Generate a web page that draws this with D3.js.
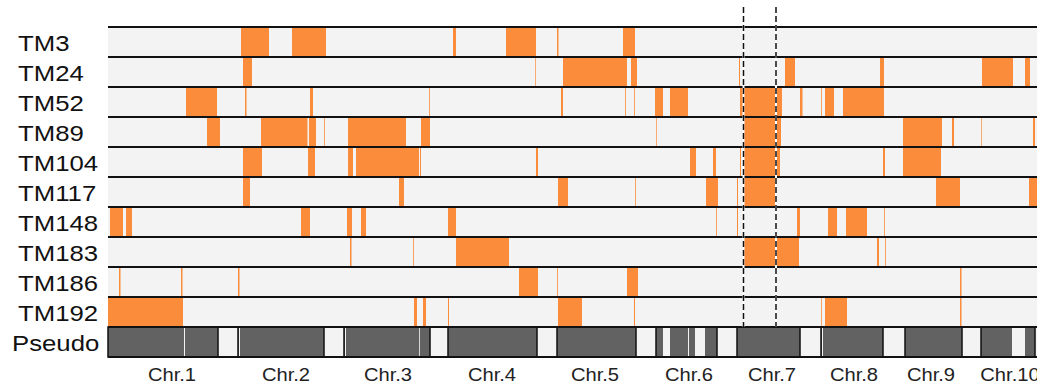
<!DOCTYPE html>
<html>
<head>
<meta charset="utf-8">
<script src="https://cdn.jsdelivr.net/npm/d3@7"></script>
<style>
  body { margin: 0; background: #fff; }
  svg { display: block; font-family: "Liberation Sans", Arial, sans-serif; }
</style>
</head>
<body>
<div id="chart"></div>
<script>
// positions are genome units along the concatenated chromosomes (0 - 929)
const lineNames = ["TM3", "TM24", "TM52", "TM89", "TM104", "TM117", "TM148", "TM183", "TM186", "TM192"];

const tm3   = [[133,161],[184,218],[345,348],[398,428],[449,450.5],[515,527]];
const tm24  = [[135,144],[427,427.7],[455,519],[523,529],[631,632],[677,687],[772,776],[874,905],[917,922]];
const tm52  = [[78,109],[137,138.5],[202,205],[321,321.8],[453,455],[517,517.8],[526,526.8],[547,555],[562,580],
               [632,674],[692,694.5],[713,713.8],[717,726],[735,776]];
const tm89  = [[99,112],[153,199.5],[201,208],[216,216.8],[240,298],[313,322],[548,548.7],[635,673],
               [795,834],[844,846],[873,873.7],[925,927]];
const tm104 = [[135,154],[200,207],[240,245],[248,311],[312,313],[428,430],[582,588],[605,608],[632,633],
               [635,672],[775,777],[795,833]];
const tm117 = [[135,142],[291,296],[450,460],[527,527.8],[598,610],[629,630],[635,668],[828,852],[921,929]];
const tm148 = [[2,15],[18,24],[193,202],[239,244],[253,258],[340,348],[608,608.8],[629,630],[689,692],
               [720,729],[738,759],[776,776.8]];
const tm183 = [[242,243.5],[305,305.8],[348,401],[635,691],[769,771],[777,777.8]];
const tm186 = [[11,12.5],[73,74.5],[130,131.5],[411,430],[449,449.8],[519,530],[852,853.5]];
const tm192 = [[0,75],[306,309],[315,318],[340,341],[450,474],[526,527],[713,713.8],[717,739],[852,853.5]];

const lineSegments = [tm3, tm24, tm52, tm89, tm104, tm117, tm148, tm183, tm186, tm192];

// pseudo chromosome
const chromNames = ["Chr.1","Chr.2","Chr.3","Chr.4","Chr.5","Chr.6","Chr.7","Chr.8","Chr.9","Chr.10"];
const chromSpans = [[0,110],[130,216],[236,322],[340,429],[449,528],[548,609],[629,692],[713,775],[797,854],[873,927]];
const chromGaps  = [[76,77],[131,132],[237,238],[311,311.8],[555,562],[580,581],[587,597],[714,715],[904,917]];
const chromLabelPos = [64,178,280,384,487,581,664,746,823,902];

// QTL interval
const markerInterval = [635.5, 668];

const width = 1047, height = 387;
const orange = "#fa8c3c";

const svg = d3.select("#chart").append("svg")
  .attr("width", width)
  .attr("height", height);

const x = d3.scaleLinear().domain([0, 929]).range([108, 1037]);
const rowNames = lineNames.concat(["Pseudo"]);
const y = d3.scaleBand().domain(rowNames).range([27, 357]).padding(0);

// row backgrounds
svg.append("g").selectAll("rect")
  .data(rowNames)
  .join("rect")
    .attr("x", x(0))
    .attr("y", d => y(d))
    .attr("width", x(929) - x(0))
    .attr("height", y.bandwidth())
    .attr("fill", "#f3f3f3");

// orange segments
const rows = lineNames.map((n, i) => ({name: n, segs: lineSegments[i]}));
svg.append("g").selectAll("g")
  .data(rows)
  .join("g")
  .selectAll("rect")
  .data(d => d.segs.map(s => ({name: d.name, s: s})))
  .join("rect")
    .attr("x", d => x(d.s[0]))
    .attr("y", d => y(d.name))
    .attr("width", d => x(d.s[1]) - x(d.s[0]))
    .attr("height", y.bandwidth())
    .attr("fill", orange);

// pseudo chromosome bar
const pseudo = svg.append("g");
pseudo.selectAll("rect.chrom")
  .data(chromSpans)
  .join("rect")
    .attr("class", "chrom")
    .attr("x", d => x(d[0]))
    .attr("y", y("Pseudo"))
    .attr("width", d => x(d[1]) - x(d[0]))
    .attr("height", y.bandwidth())
    .attr("fill", "#626262")
    .attr("stroke", "#111")
    .attr("stroke-width", 1.5);
pseudo.selectAll("rect.gap")
  .data(chromGaps)
  .join("rect")
    .attr("class", "gap")
    .attr("x", d => x(d[0]))
    .attr("y", y("Pseudo") + 1)
    .attr("width", d => x(d[1]) - x(d[0]))
    .attr("height", y.bandwidth() - 2)
    .attr("fill", "#f3f3f3");

// horizontal row lines
const bounds = rowNames.map(d => y(d)).concat([y("Pseudo") + y.bandwidth()]);
svg.append("g").selectAll("line")
  .data(bounds)
  .join("line")
    .attr("x1", x(0))
    .attr("x2", x(929))
    .attr("y1", d => d)
    .attr("y2", d => d)
    .attr("stroke", "#111")
    .attr("stroke-width", 2.2);

// dashed interval lines
const dash = svg.append("g");
dash.selectAll("line.bg")
  .data(markerInterval)
  .join("line")
    .attr("class", "bg")
    .attr("x1", d => x(d)).attr("x2", d => x(d))
    .attr("y1", 7).attr("y2", y("Pseudo"))
    .attr("stroke", "#fff")
    .attr("stroke-width", 2);
dash.selectAll("line.fg")
  .data(markerInterval)
  .join("line")
    .attr("class", "fg")
    .attr("x1", d => x(d)).attr("x2", d => x(d))
    .attr("y1", 7).attr("y2", y("Pseudo"))
    .attr("stroke", "#111")
    .attr("stroke-width", 1.5)
    .attr("stroke-dasharray", "6,3");

// row labels
svg.append("g").selectAll("text")
  .data(rowNames)
  .join("text")
    .attr("transform", d => "translate(" + (d === "Pseudo" ? 12 : 18) + "," + (y(d) + y.bandwidth() / 2 + 8.5) + ") scale(1.12,1)")
    .attr("font-size", 23)
    .attr("fill", "#111")
    .text(d => d);

// chromosome labels, clipped at the plot edge
svg.append("clipPath").attr("id", "clip")
  .append("rect").attr("x", 0).attr("y", 0).attr("width", x(929)).attr("height", height);

svg.append("g").attr("clip-path", "url(#clip)")
  .selectAll("text")
  .data(chromNames)
  .join("text")
    .attr("transform", (d, i) => "translate(" + x(chromLabelPos[i]) + ",381) scale(1.12,1)")
    .attr("text-anchor", "middle")
    .attr("font-size", 18)
    .attr("fill", "#222")
    .text(d => d);
</script>
</body>
</html>
